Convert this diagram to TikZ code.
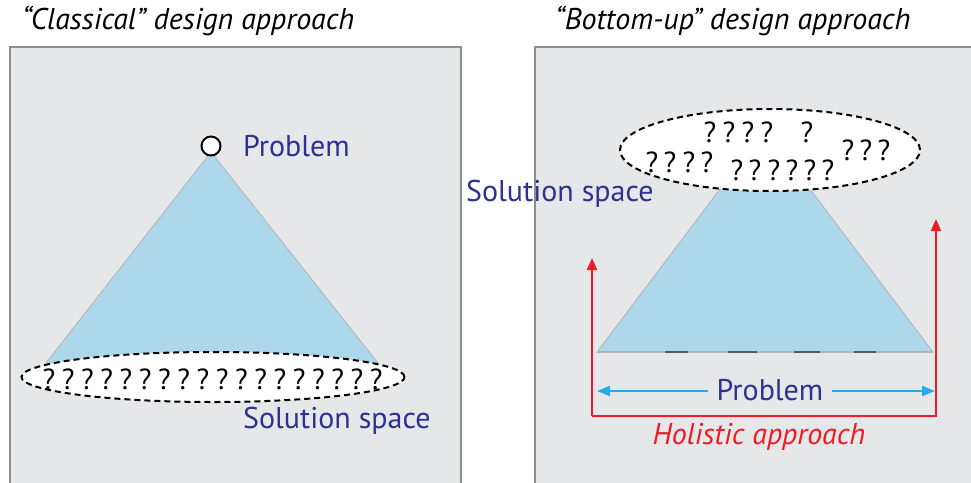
\documentclass[tikz,border=0pt]{standalone}
\usepackage{fontspec}
\setmainfont{PT Sans}
\usetikzlibrary{arrows.meta,shapes.geometric}
\definecolor{panelfill}{HTML}{E6E7E8}
\definecolor{panelline}{HTML}{8E8E8E}
\definecolor{conefill}{HTML}{ADD7EA}
\definecolor{coneline}{HTML}{B4B4B4}
\definecolor{labelblue}{HTML}{2E3192}
\definecolor{arrowblue}{HTML}{29ABE2}
\definecolor{holred}{HTML}{ED1C24}
\tikzset{
  panel/.style={fill=panelfill,draw=panelline,line width=2.5pt},
  cone/.style={fill=conefill,draw=coneline,line width=0.8pt},
  spaceoval/.style={fill=white,draw=black,line width=2pt,dash pattern=on 6pt off 4pt},
  qm/.style={font=\fontsize{29}{32}\selectfont,inner sep=0pt,text=black},
  title/.style={font=\fontsize{30}{34}\selectfont\itshape,text=black,inner sep=0pt},
  lbl/.style={font=\fontsize{30}{34}\selectfont,text=labelblue,inner sep=0pt},
  holistic/.style={draw=holred,line width=2pt,-{Triangle[length=12pt,width=10pt]}},
  dimarrow/.style={draw=arrowblue,line width=2.2pt,-{Triangle[length=13pt,width=10pt]}}
}
\begin{document}
\begin{tikzpicture}[x=1pt,y=-1pt]
\useasboundingbox (0,0) rectangle (971,482);
% panels
\path[panel] (10,47) rectangle (461,500);
\path[panel] (535,47) rectangle (990,500);
% titles
\node[title,anchor=west] (t1) at (22,21) {“Classical” design approach};
\node[title,anchor=west] (t2) at (555,21) {“Bottom-up” design approach};
% left: classical
\path[cone] (211,152) -- (378,363) -- (46,363) -- cycle;
\node[circle,draw=black,fill=white,line width=2pt,minimum size=19pt,inner sep=0pt] (prob1) at (211,146) {};
\node[lbl,anchor=west] (plabel1) at (243,146) {Problem};
\node[spaceoval,ellipse,minimum width=383pt,minimum height=50pt,inner sep=0pt] (sol1) at (213,377) {};
\foreach \i in {0,...,17}{
  \node[qm] (q\i) at ({49+\i*19.25},379) {?};
}
\node[lbl,anchor=west] (slabel1) at (243,421) {Solution space};
% right: bottom-up
\path[cone] (723,185) -- (807,185) -- (933,352) -- (597,352) -- cycle;
\coordinate (bl) at (597,352);
\coordinate (br) at (933,352);
\draw[coneline,line width=1.5pt] (bl) -- (br);
\foreach \a/\b in {665/688,728/757,794/820,854/876}{
  \draw[black!65,line width=2.2pt] (\a,352) -- (\b,352);
}
\node[spaceoval,ellipse,minimum width=300pt,minimum height=82pt,inner sep=0pt] (sol2) at (770,150) {};
\foreach \x/\y [count=\k] in {710/132,729/132,748/132,767/132,807/132,
  652/162,670/162,689/162,707/162,
  737/170,755/170,774/170,792/170,810/170,828/170,
  848/150,866/150,884/150}{
  \node[qm] (r\k) at (\x,\y) {?};
}
\node[lbl,anchor=west] (slabel2) at (466,194) {Solution space};
% problem dimension
\node[lbl] (plabel2) at (770,390) {Problem};
\coordinate (pl) at (597,391);
\coordinate (pr) at (935,391);
\draw[dimarrow] (708,391) -- (pl);
\draw[dimarrow] (832,391) -- (pr);
% holistic approach
\coordinate (h1) at (592,258);
\coordinate (h2) at (592,416);
\coordinate (h3) at (936,416);
\coordinate (h4) at (936,219);
\draw[holistic] (h2) -- (h1);
\draw[holistic] (h2) -- (h3) -- (h4);
\node[font=\fontsize{30}{34}\selectfont\itshape,text=holred,inner sep=0pt] (hlabel) at (759,437) {Holistic approach};
\end{tikzpicture}
\end{document}
